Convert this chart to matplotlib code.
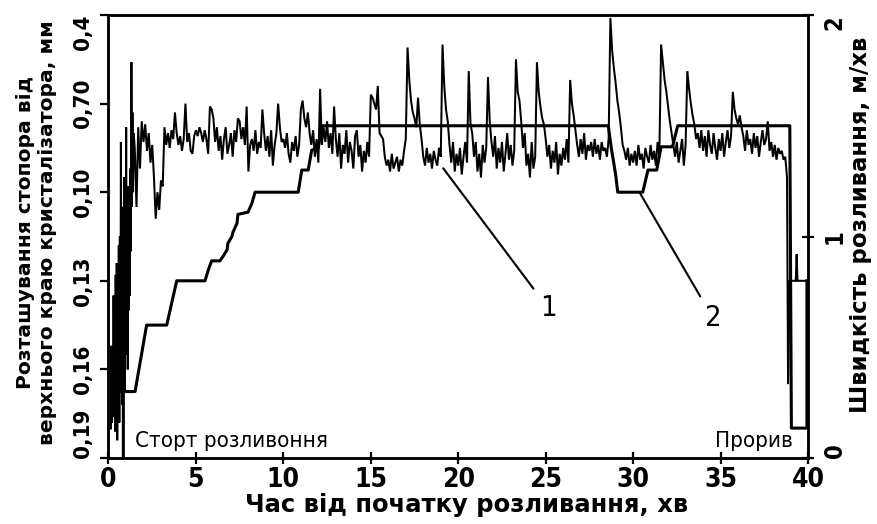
import numpy as np
import matplotlib
matplotlib.use('Agg')
import matplotlib.pyplot as plt
from matplotlib import font_manager as fm
import matplotlib.transforms as mtransforms


def pick_narrow(bold):
    """Find a narrow/condensed font file if one is installed."""
    best, best_score = None, -1
    for f in fm.fontManager.ttflist:
        name = f.name.lower()
        path = f.fname.lower()
        narrow = ('narrow' in name or 'condensed' in name or 'narrow' in path
                  or 'condensed' in path or str(f.stretch) in ('condensed', 'semi-condensed'))
        if not narrow:
            continue
        score = 1
        if 'liberation' in name:
            score += 4
        if 'dejavu' in name:
            score += 2
        w = f.weight if isinstance(f.weight, int) else (700 if 'bold' in str(f.weight) else 400)
        if bold and w >= 600:
            score += 3
        if not bold and w < 600:
            score += 3
        if 'italic' in str(f.style) or 'oblique' in str(f.style):
            score -= 5
        if score > best_score:
            best, best_score = f.fname, score
    return best


nb = pick_narrow(True)
nr = pick_narrow(False)


def narrow_fp(size, bold=True):
    path = nb if bold else nr
    if path:
        return fm.FontProperties(fname=path, size=size)
    return fm.FontProperties(family='Liberation Sans', weight='bold' if bold else 'normal', size=size)


# ---------------- data ----------------
x_ticks = [0, 5, 10, 15, 20, 25, 30, 35, 40]
x_tick_labels = ['0', '5', '10', '15', '20', '25', '30', '35', '40']
left_tick_pos = [0.04, 0.07, 0.10, 0.13, 0.16, 0.19]
left_tick_labels = ['0,4', '0,70', '0,10', '0,13', '0,16', '0,19']
right_ticks = [0, 1, 2]
right_tick_labels = ['0', '1', '2']

# curve 1 (stopper position), start of casting (dense oscillation)
t1_start = [0.00, 0.14, 0.17, 0.20, 0.23, 0.26, 0.29, 0.32, 0.35, 0.38, 0.41, 0.44, 0.47,
            0.50, 0.53, 0.56, 0.59, 0.62, 0.65, 0.68, 0.71, 0.74, 0.77, 0.80, 0.83, 0.86,
            0.89, 0.92, 0.95, 0.98, 1.01, 1.04, 1.07, 1.10, 1.13, 1.16, 1.19, 1.22, 1.25,
            1.28, 1.31, 1.34, 1.37, 1.40, 1.44]
v1_start = [0.180, 0.180, 0.152, 0.178, 0.160, 0.176, 0.135, 0.172, 0.150, 0.181, 0.128, 0.176, 0.124,
            0.184, 0.140, 0.170, 0.118, 0.178, 0.115, 0.168, 0.083, 0.165, 0.105, 0.172, 0.120, 0.160,
            0.095, 0.168, 0.110, 0.150, 0.078, 0.155, 0.100, 0.160, 0.098, 0.140, 0.115, 0.135, 0.092,
            0.120, 0.056, 0.105, 0.073, 0.100, 0.080]

# curve 1, 0.1-min samples; first row starts at 1.5 min, next rows at 2, 3, ... min
v1_rows = [
    [0.085, 0.105, 0.078, 0.092, 0.076],
    [0.083, 0.077, 0.086, 0.080, 0.090, 0.084, 0.095, 0.109, 0.100, 0.106],   # 2
    [0.096, 0.098, 0.078, 0.084, 0.080, 0.085, 0.079, 0.082, 0.073, 0.080],   # 3
    [0.084, 0.081, 0.086, 0.082, 0.070, 0.083, 0.080, 0.086, 0.087, 0.081],   # 4
    [0.079, 0.081, 0.078, 0.080, 0.083, 0.079, 0.082, 0.087, 0.071, 0.072],   # 5
    [0.075, 0.083, 0.078, 0.086, 0.081, 0.089, 0.082, 0.078, 0.087, 0.084],   # 6
    [0.080, 0.088, 0.079, 0.083, 0.075, 0.076, 0.082, 0.078, 0.084, 0.071],   # 7
    [0.093, 0.084, 0.082, 0.086, 0.079, 0.087, 0.083, 0.085, 0.072, 0.080],   # 8
    [0.086, 0.081, 0.088, 0.079, 0.091, 0.084, 0.080, 0.070, 0.078, 0.083],   # 9
    [0.082, 0.085, 0.080, 0.087, 0.090, 0.083, 0.086, 0.081, 0.088, 0.084],   # 10
    [0.072, 0.069, 0.075, 0.078, 0.073, 0.080, 0.084, 0.079, 0.088, 0.082],   # 11
    [0.090, 0.065, 0.084, 0.078, 0.083, 0.076, 0.085, 0.080, 0.087, 0.071],   # 12
    [0.082, 0.088, 0.080, 0.092, 0.084, 0.087, 0.079, 0.090, 0.083, 0.086],   # 13
    [0.092, 0.081, 0.079, 0.088, 0.084, 0.093, 0.086, 0.090, 0.083, 0.088],   # 14
    [0.067, 0.068, 0.070, 0.072, 0.064, 0.080, 0.081, 0.082, 0.088, 0.091],   # 15
    [0.089, 0.093, 0.087, 0.092, 0.090, 0.088, 0.093, 0.089, 0.091, 0.086],   # 16
    [0.082, 0.051, 0.062, 0.069, 0.073, 0.075, 0.078, 0.068, 0.077, 0.082],   # 17
    [0.088, 0.091, 0.085, 0.090, 0.087, 0.092, 0.086, 0.089, 0.091, 0.085],   # 18
    [0.088, 0.050, 0.064, 0.072, 0.076, 0.084, 0.090, 0.083, 0.093, 0.087],   # 19
    [0.091, 0.085, 0.094, 0.088, 0.083, 0.090, 0.059, 0.077, 0.080, 0.088],   # 20
    [0.083, 0.093, 0.087, 0.095, 0.084, 0.090, 0.085, 0.061, 0.076, 0.083],   # 21
    [0.088, 0.081, 0.092, 0.085, 0.090, 0.083, 0.093, 0.087, 0.080, 0.089],   # 22
    [0.084, 0.091, 0.086, 0.055, 0.066, 0.069, 0.076, 0.085, 0.080, 0.091],   # 23
    [0.087, 0.095, 0.083, 0.092, 0.088, 0.056, 0.066, 0.071, 0.075, 0.077],   # 24
    [0.082, 0.088, 0.084, 0.092, 0.086, 0.090, 0.083, 0.094, 0.087, 0.091],   # 25
    [0.085, 0.089, 0.082, 0.090, 0.062, 0.070, 0.074, 0.079, 0.084, 0.088],   # 26
    [0.082, 0.087, 0.080, 0.089, 0.084, 0.086, 0.083, 0.088, 0.082, 0.087],   # 27
    [0.084, 0.089, 0.083, 0.086, 0.085, 0.088, 0.082, 0.041, 0.052, 0.058],   # 28
    [0.063, 0.069, 0.073, 0.078, 0.084, 0.086, 0.089, 0.085, 0.091, 0.087],   # 29
    [0.090, 0.086, 0.091, 0.084, 0.089, 0.087, 0.092, 0.085, 0.088, 0.090],   # 30
    [0.084, 0.089, 0.086, 0.091, 0.083, 0.087, 0.050, 0.056, 0.062, 0.066],   # 31
    [0.071, 0.076, 0.080, 0.084, 0.088, 0.083, 0.090, 0.086, 0.082, 0.091],   # 32
    [0.084, 0.059, 0.065, 0.070, 0.074, 0.077, 0.082, 0.080, 0.085, 0.079],   # 33
    [0.086, 0.081, 0.088, 0.079, 0.084, 0.087, 0.080, 0.085, 0.089, 0.082],   # 34
    [0.086, 0.080, 0.088, 0.083, 0.079, 0.085, 0.081, 0.066, 0.072, 0.075],   # 35
    [0.077, 0.074, 0.078, 0.081, 0.086, 0.079, 0.084, 0.082, 0.087, 0.080],   # 36
    [0.085, 0.081, 0.088, 0.083, 0.079, 0.084, 0.082, 0.076, 0.086, 0.083],   # 37
    [0.088, 0.084, 0.089, 0.085, 0.087, 0.086, 0.089, 0.088],                 # 38
]

# curve 1, breakout
t1_end = [38.80, 38.86, 38.95, 39.30, 39.35, 39.40, 39.94]
v1_end = [0.095, 0.165, 0.130, 0.130, 0.121, 0.130, 0.130]

# curve 2 (casting speed, m/min)
t2 = [0.85, 0.85, 1.52, 2.18, 3.33, 3.90, 5.52, 5.71, 5.90, 6.37, 6.55, 6.78, 6.83, 7.06,
      7.12, 7.35, 7.40, 7.98, 8.20, 8.38, 10.85, 11.05, 11.42, 11.62, 12.00, 12.19,
      28.58, 28.75, 29.00, 29.12, 30.55, 30.85, 31.35, 31.60, 32.25, 32.55,
      38.96, 39.05, 39.94, 39.94]
s2 = [0.00, 0.30, 0.30, 0.60, 0.60, 0.80, 0.80, 0.85, 0.89, 0.89, 0.91, 0.94, 0.97, 1.00,
      1.02, 1.06, 1.10, 1.11, 1.15, 1.20, 1.20, 1.30, 1.30, 1.39, 1.40, 1.50,
      1.50, 1.40, 1.28, 1.20, 1.20, 1.30, 1.30, 1.405, 1.405, 1.50,
      1.50, 0.135, 0.135, 0.80]

# ---------------- build curve 1 ----------------
t1_main, v1_main = [], []
for k, row in enumerate(v1_rows):
    start = 1.5 if k == 0 else float(k + 1)
    for j, v in enumerate(row):
        t1_main.append(round(start + 0.1 * j, 2))
        v1_main.append(v)
t1 = list(t1_start) + t1_main + list(t1_end)
v1 = list(v1_start) + v1_main + list(v1_end)

# ---------------- figure ----------------
W, H = 878, 524
fig = plt.figure(figsize=(W / 100, H / 100), dpi=100)
fig.subplots_adjust(left=108.5 / W, right=808 / W, bottom=(H - 458) / H, top=(H - 15) / H)
ax = fig.add_subplot(111)
ax2 = ax.twinx()

ax.plot(t1, v1, color='black', lw=1.45, solid_joinstyle='miter')
ax2.plot(t2, s2, color='black', lw=2.2)

ax.set_xlim(0, 40)
ax.set_ylim(0.19, 0.04)
ax2.set_ylim(0, 2)

ax.set_xticks(x_ticks)
ax.set_xticklabels(x_tick_labels, fontproperties=narrow_fp(19))
ax.set_yticks(left_tick_pos)
ax.set_yticklabels(left_tick_labels, fontproperties=narrow_fp(16), rotation=90, va='center')
ylabs = ax.get_yticklabels()
ylabs[0].set_va('top')
ylabs[-1].set_va('bottom')
ax2.set_yticks(right_ticks)
ax2.set_yticklabels(right_tick_labels, fontproperties=narrow_fp(17), rotation=90, va='center')
rlabs = ax2.get_yticklabels()
rlabs[0].set_va('bottom')
rlabs[-1].set_va('top')

ax.tick_params(axis='x', direction='inout', length=9, width=1.6, pad=2)
ax.tick_params(axis='y', direction='out', length=6, width=1.6, pad=5)
ax2.tick_params(axis='y', direction='inout', length=9, width=1.6, pad=6)

for a in (ax, ax2):
    for sp in a.spines.values():
        sp.set_linewidth(1.8)

fig.text(467 / W, 1 - 505 / H, 'Час від початку розливання, хв', ha='center', va='center',
         family='DejaVu Sans', weight='bold', size=17.5)
fig.text(37 / W, 1 - 233 / H, 'Розташування стопора від\nверхнього краю кристалізатора, мм',
         ha='center', va='center', rotation=90, multialignment='center', linespacing=1.2,
         family='DejaVu Sans', weight='bold', size=14.6)
fig.text(861 / W, 1 - 225 / H, 'Швидкість розливання, м/хв', ha='center', va='center',
         rotation=90, family='DejaVu Sans', weight='bold', size=16.5)

trans = mtransforms.blended_transform_factory(ax.transData, ax.transAxes)
ax.text(1.54, 0.025, 'Сторт розливоння', transform=trans, ha='left', va='baseline',
        fontproperties=narrow_fp(16, bold=False))
ax.text(39.13, 0.025, 'Прорив', transform=trans, ha='right', va='baseline',
        fontproperties=narrow_fp(16, bold=False))

ax.annotate('1', xy=(19.14, 0.0919), xytext=(25.13, 0.1392), ha='center', va='center',
            fontproperties=narrow_fp(21, bold=False),
            arrowprops=dict(arrowstyle='-', lw=1.5, color='black', shrinkA=4, shrinkB=0))
ax.annotate('2', xy=(30.39, 0.1003), xytext=(34.56, 0.1426), ha='center', va='center',
            fontproperties=narrow_fp(21, bold=False),
            arrowprops=dict(arrowstyle='-', lw=1.5, color='black', shrinkA=4, shrinkB=0))

fig.savefig('out.png', dpi=100)
